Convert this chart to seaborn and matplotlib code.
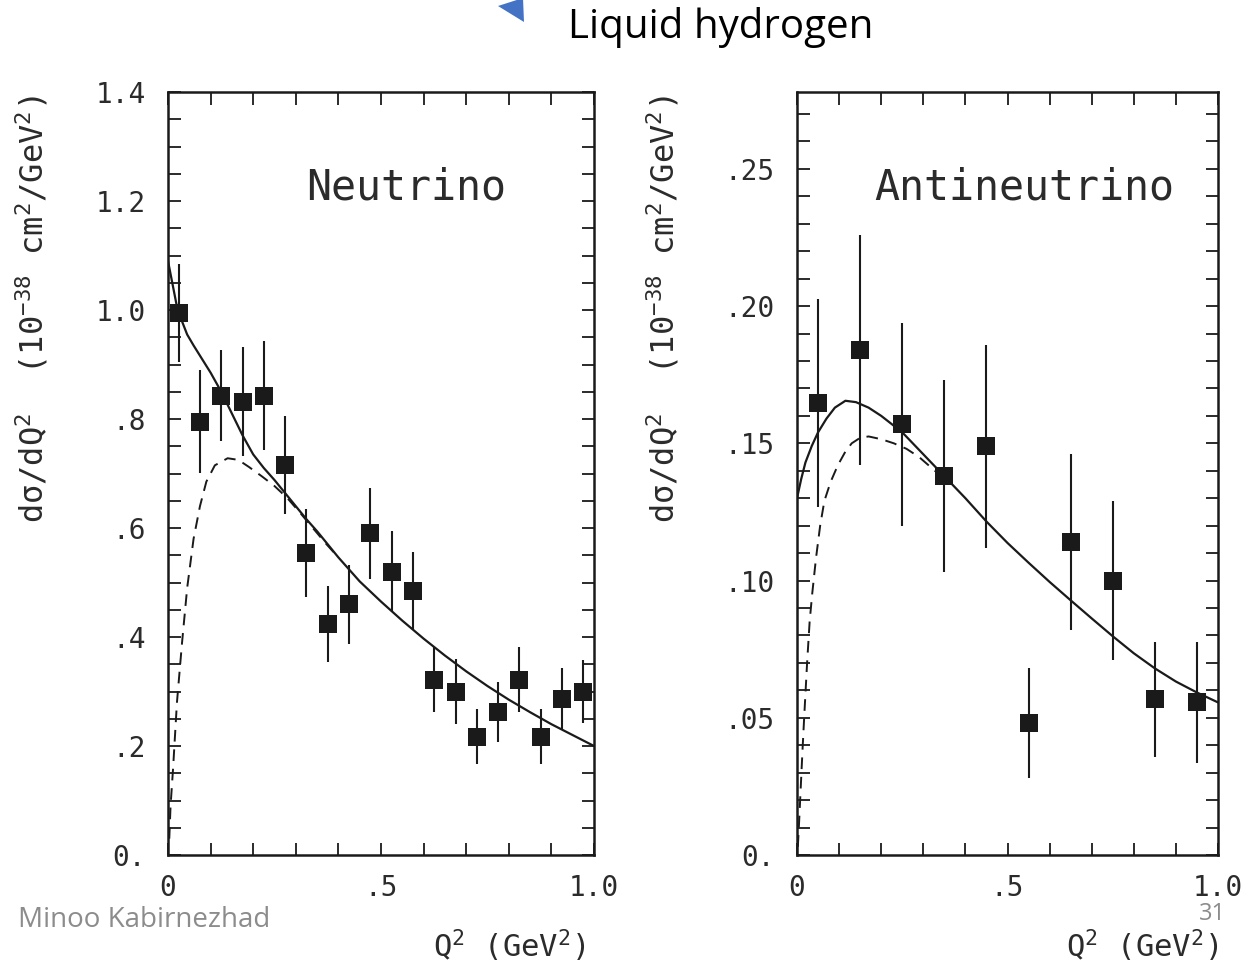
import numpy as np
import pandas as pd
import matplotlib
matplotlib.use("Agg")
import matplotlib.pyplot as plt
from matplotlib.patches import Polygon
from matplotlib.ticker import FixedLocator, FixedFormatter, MultipleLocator
import seaborn as sns

# ---------------- data ----------------
# Neutrino panel
nu_q = [0.025, 0.075, 0.125, 0.175, 0.225, 0.275, 0.325, 0.375, 0.425, 0.475,
        0.525, 0.575, 0.625, 0.675, 0.725, 0.775, 0.825, 0.875, 0.925, 0.975]
nu_val = [0.995, 0.795, 0.843, 0.832, 0.843, 0.716, 0.554, 0.424, 0.460, 0.590,
          0.520, 0.484, 0.322, 0.300, 0.217, 0.263, 0.322, 0.217, 0.287, 0.300]
nu_err = [0.090, 0.095, 0.083, 0.100, 0.100, 0.090, 0.080, 0.070, 0.072, 0.083,
          0.075, 0.072, 0.060, 0.060, 0.050, 0.055, 0.060, 0.050, 0.057, 0.057]

nu_solid_q = [0.0, 0.01, 0.02, 0.03, 0.045, 0.06, 0.08, 0.10, 0.125, 0.15, 0.175,
              0.20, 0.225, 0.25, 0.275, 0.30, 0.325, 0.35, 0.375, 0.40, 0.45, 0.50,
              0.55, 0.60, 0.65, 0.70, 0.75, 0.80, 0.85, 0.90, 0.95, 1.0]
nu_solid_v = [1.09, 1.05, 1.01, 0.985, 0.955, 0.935, 0.91, 0.885, 0.85, 0.81, 0.77,
              0.735, 0.71, 0.688, 0.664, 0.64, 0.616, 0.594, 0.57, 0.546, 0.502, 0.465,
              0.43, 0.397, 0.366, 0.337, 0.31, 0.285, 0.262, 0.24, 0.22, 0.20]

nu_dash_q = [0.003, 0.006, 0.012, 0.021, 0.033, 0.045, 0.06, 0.075, 0.09, 0.11, 0.14,
             0.165, 0.19, 0.22, 0.25, 0.28, 0.31, 0.34, 0.37, 0.40]
nu_dash_v = [0.03, 0.09, 0.16, 0.28, 0.39, 0.49, 0.58, 0.64, 0.685, 0.715, 0.728,
             0.725, 0.712, 0.695, 0.677, 0.655, 0.628, 0.60, 0.572, 0.546]

# Antineutrino panel
anu_q = [0.05, 0.15, 0.25, 0.35, 0.45, 0.55, 0.65, 0.75, 0.85, 0.95]
anu_val = [0.1647, 0.184, 0.157, 0.138, 0.149, 0.048, 0.114, 0.100, 0.0567, 0.0556]
anu_err = [0.038, 0.042, 0.037, 0.035, 0.037, 0.020, 0.032, 0.029, 0.021, 0.022]

anu_solid_q = [0.0, 0.01, 0.02, 0.035, 0.05, 0.07, 0.09, 0.115, 0.14, 0.17, 0.2, 0.25,
               0.3, 0.35, 0.4, 0.45, 0.5, 0.55, 0.6, 0.65, 0.7, 0.75, 0.8, 0.85, 0.9,
               0.95, 1.0]
anu_solid_v = [0.130, 0.137, 0.143, 0.149, 0.154, 0.159, 0.163, 0.1655, 0.165, 0.163,
               0.160, 0.154, 0.146, 0.138, 0.130, 0.1215, 0.1137, 0.1065, 0.0995, 0.0928,
               0.0862, 0.0797, 0.0735, 0.068, 0.0632, 0.0592, 0.0556]

anu_dash_q = [0.002, 0.005, 0.009, 0.013, 0.017, 0.024, 0.03, 0.036, 0.045, 0.055,
              0.065, 0.08, 0.097, 0.115, 0.13, 0.15, 0.17, 0.2, 0.23, 0.26, 0.29,
              0.32, 0.35]
anu_dash_v = [0.003, 0.012, 0.025, 0.038, 0.05, 0.07, 0.085, 0.095, 0.108, 0.12,
              0.129, 0.136, 0.142, 0.147, 0.150, 0.152, 0.1525, 0.1515, 0.150, 0.148,
              0.145, 0.141, 0.137]

nu_yticks = [0.0, 0.2, 0.4, 0.6, 0.8, 1.0, 1.2, 1.4]
nu_yticklabels = ["0.", ".2", ".4", ".6", ".8", "1.0", "1.2", "1.4"]
anu_yticks = [0.0, 0.05, 0.10, 0.15, 0.20, 0.25]
anu_yticklabels = ["0.", ".05", ".10", ".15", ".20", ".25"]
xticks = [0.0, 0.5, 1.0]
xticklabels = ["0", ".5", "1.0"]

title_text = "Liquid hydrogen"
panel_names = ["Neutrino", "Antineutrino"]
ylabel_text = r"d$\sigma$/dQ$^{2}$  (10$^{-38}$ cm$^{2}$/GeV$^{2}$)"
xlabel_text = r"Q$^{2}$ (GeV$^{2}$)"
author_text = "Minoo Kabirnezhad"
page_text = "31"

# ---------------- style ----------------
sns.set_style("ticks")
plt.rcParams["font.family"] = ["DejaVu Sans Mono", "DejaVu Sans"]
plt.rcParams["mathtext.fontset"] = "custom"
plt.rcParams["mathtext.rm"] = "DejaVu Sans Mono"
plt.rcParams["mathtext.it"] = "DejaVu Sans Mono"
plt.rcParams["mathtext.default"] = "rm"

W, H = 1256, 966
fig = plt.figure(figsize=(W / 100, H / 100), dpi=100)
fig.patch.set_facecolor("white")

ink = "#1a1a1a"
txt = "#2b2b2b"


def make_axes(x0, x1, y_top, y_bot):
    return fig.add_axes([x0 / W, 1 - y_bot / H, (x1 - x0) / W, (y_bot - y_top) / H])


ax1 = make_axes(168, 594, 92, 855)
ax2 = make_axes(797, 1218, 92, 855)


def draw_panel(ax, q, val, err, sq, sv, dq, dv, ylim, yticks, ylabels, yminor, name, name_x):
    df_pts = pd.DataFrame({"q": q, "v": val})
    ax.errorbar(q, val, yerr=err, fmt="none", ecolor=ink, elinewidth=1.5, capsize=0, zorder=2)
    sns.lineplot(x=sq, y=sv, ax=ax, color=ink, lw=1.6, sort=False, estimator=None, zorder=3)
    sns.lineplot(x=dq, y=dv, ax=ax, color=ink, lw=1.4, sort=False, estimator=None,
                 linestyle=(0, (6, 4)), zorder=3)
    sns.scatterplot(data=df_pts, x="q", y="v", ax=ax, marker="s", s=150, color=ink,
                    edgecolor=ink, linewidth=0, zorder=4)
    ax.set_xlim(0, 1.0)
    ax.set_ylim(*ylim)
    ax.yaxis.set_major_locator(FixedLocator(yticks))
    ax.yaxis.set_major_formatter(FixedFormatter(ylabels))
    ax.yaxis.set_minor_locator(MultipleLocator(yminor))
    ax.xaxis.set_major_locator(FixedLocator(xticks))
    ax.xaxis.set_major_formatter(FixedFormatter(xticklabels))
    ax.xaxis.set_minor_locator(MultipleLocator(0.1))
    ax.tick_params(which="both", direction="in", top=True, right=True, length=9,
                   width=1.3, color=ink, labelsize=20, labelcolor=txt)
    ax.tick_params(axis="y", which="both", pad=16)
    ax.tick_params(axis="x", which="both", pad=14)
    for sp in ax.spines.values():
        sp.set_linewidth(1.8)
        sp.set_color(ink)
    ax.set_xlabel(xlabel_text, fontsize=22, color=txt)
    ax.set_ylabel(ylabel_text, fontsize=23, color=txt)
    ax.text(name_x, 0.875, name, transform=ax.transAxes, fontsize=30, color=txt,
            ha="center", va="center")
    ax.set_facecolor("white")


draw_panel(ax1, nu_q, nu_val, nu_err, nu_solid_q, nu_solid_v, nu_dash_q, nu_dash_v,
           (0, 1.4), nu_yticks, nu_yticklabels, 0.05, panel_names[0], 0.56)
ax1.yaxis.set_label_coords(-0.275, 0.715)
ax1.xaxis.set_label_coords(0.8, -0.095)
draw_panel(ax2, anu_q, anu_val, anu_err, anu_solid_q, anu_solid_v, anu_dash_q, anu_dash_v,
           (0, 0.278), anu_yticks, anu_yticklabels, 0.01, panel_names[1], 0.54)
ax2.yaxis.set_label_coords(-0.275, 0.715)
ax2.xaxis.set_label_coords(0.82, -0.095)

# title and decorations
fig.text(721 / W, 1 - 27 / H, title_text, fontsize=29, family="Open Sans",
         color="black", ha="center", va="center")
tri = Polygon([(523 / W, 1.0 + 2 / H), (498 / W, 1 - 6 / H), (524 / W, 1 - 22 / H)],
              closed=True, transform=fig.transFigure, facecolor="#4472C4",
              edgecolor="none")
fig.patches.append(tri)
fig.text(18 / W, 1 - 920 / H, author_text, fontsize=20, family="Open Sans",
         color="#8c8c8c", ha="left", va="center")
fig.text(1212 / W, 1 - 914 / H, page_text, fontsize=17, family="Open Sans",
         color="#8c8c8c", ha="center", va="center")

fig.savefig("out.png", dpi=100, facecolor="white")
